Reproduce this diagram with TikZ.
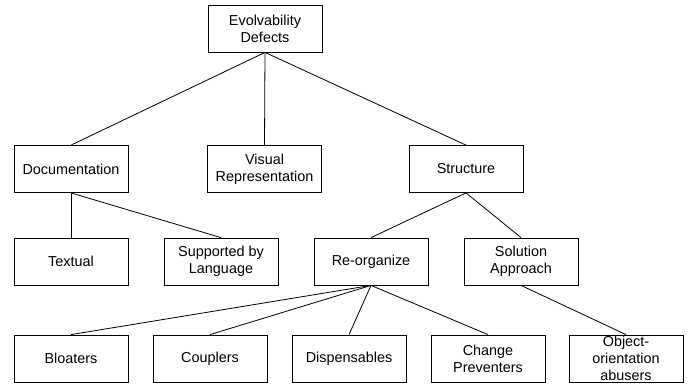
\documentclass[tikz,border=0pt]{standalone}
\usepackage{fontspec}
\setmainfont{Liberation Sans}
\begin{document}
\begin{tikzpicture}[x=1pt,y=-1pt,
  box/.style={draw, line width=0.8pt, minimum width=114pt, minimum height=47pt,
    inner sep=0pt, align=center, font=\fontsize{14.4}{17}\selectfont},
  edge/.style={line width=0.8pt}]
\useasboundingbox (0,0) rectangle (690,384);
% row 1
\node[box] (evo) at (265,28.5) {Evolvability\\Defects};
% row 2
\node[box] (doc) at (71,169) {Documentation};
\node[box] (vis) at (264.5,169) {Visual\\Representation};
\node[box] (str) at (466,169) {Structure};
% row 3
\node[box] (txt) at (71,261.5) {Textual};
\node[box] (sup) at (221,261.5) {Supported by\\Language};
\node[box] (reo) at (371,261.5) {Re-organize};
\node[box] (sol) at (521,261.5) {Solution\\Approach};
% row 4
\node[box] (blo) at (71,358.5) {Bloaters};
\node[box] (cou) at (210,358.5) {Couplers};
\node[box] (dis) at (349,358.5) {Dispensables};
\node[box] (cha) at (488,358.5) {Change\\Preventers};
\node[box] (obj) at (626,358.5) {Object-\\orientation\\abusers};
% connectors
\draw[edge] (evo.south) -- (doc.north);
\draw[edge] (evo.south) -- (vis.north);
\draw[edge] (evo.south) -- (str.north);
\draw[edge] (doc.south) -- (txt.north);
\draw[edge] (doc.south) -- (sup.north);
\draw[edge] (str.south) -- (reo.north);
\draw[edge] (str.south) -- (sol.north);
\draw[edge] (reo.south) -- (blo.north);
\draw[edge] (reo.south) -- (cou.north);
\draw[edge] (reo.south) -- (dis.north);
\draw[edge] (reo.south) -- (cha.north);
\draw[edge] (sol.south) -- (obj.north);
\end{tikzpicture}
\end{document}
